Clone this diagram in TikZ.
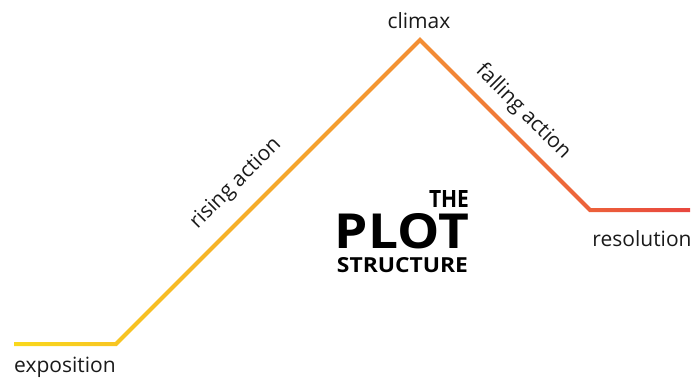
\documentclass[tikz,border=0pt]{standalone}
\usepackage{fontspec}
\setmainfont{Open Sans}
\definecolor{plotyellow}{HTML}{F9D81C}
\definecolor{plotorange}{HTML}{F38E34}
\definecolor{plotred}{HTML}{E8463E}
\definecolor{ink}{HTML}{1A1A1A}
\pgfdeclarehorizontalshading{plotgrad}{100bp}{color(0bp)=(plotyellow); color(25bp)=(plotyellow);
  color(55bp)=(plotorange); color(75bp)=(plotred); color(100bp)=(plotred)}
\def\stage{\node[ink,font=\fontsize{21}{24}\selectfont]}
\def\ttl{\node[black,font=\bfseries,inner sep=0pt]}

\begin{document}
\begin{tikzpicture}[x=1pt,y=-1pt]
  \useasboundingbox (0,0) rectangle (695,381);
  % the plot line, 4px wide
  \shade[shading=plotgrad] (14,342) -- (115.17,342) -- (420,37.17) -- (590.83,208) -- (690,208)
     -- (690,212) -- (589.17,212) -- (420,42.83) -- (116.83,346) -- (14,346) -- cycle;
  \stage[anchor=base] (expo) at (65,372) {exposition};
  \stage[anchor=base] (climax) at (419,28) {climax};
  \stage[anchor=base] (resol) at (642,246) {resolution};
  \stage[rotate=45] (rising) at (236,184) {rising action};
  \stage[rotate=-45] (falling) at (523,112) {falling action};
  % title
  \ttl (the) at (449,198.5) {\resizebox{40pt}{17pt}{THE}};
  \ttl (plot) at (402,231.5) {\resizebox{134pt}{35pt}{PLOT}};
  \ttl (struct) at (402.5,265.5) {\resizebox{131pt}{15pt}{STRUCTURE}};
\end{tikzpicture}
\end{document}
